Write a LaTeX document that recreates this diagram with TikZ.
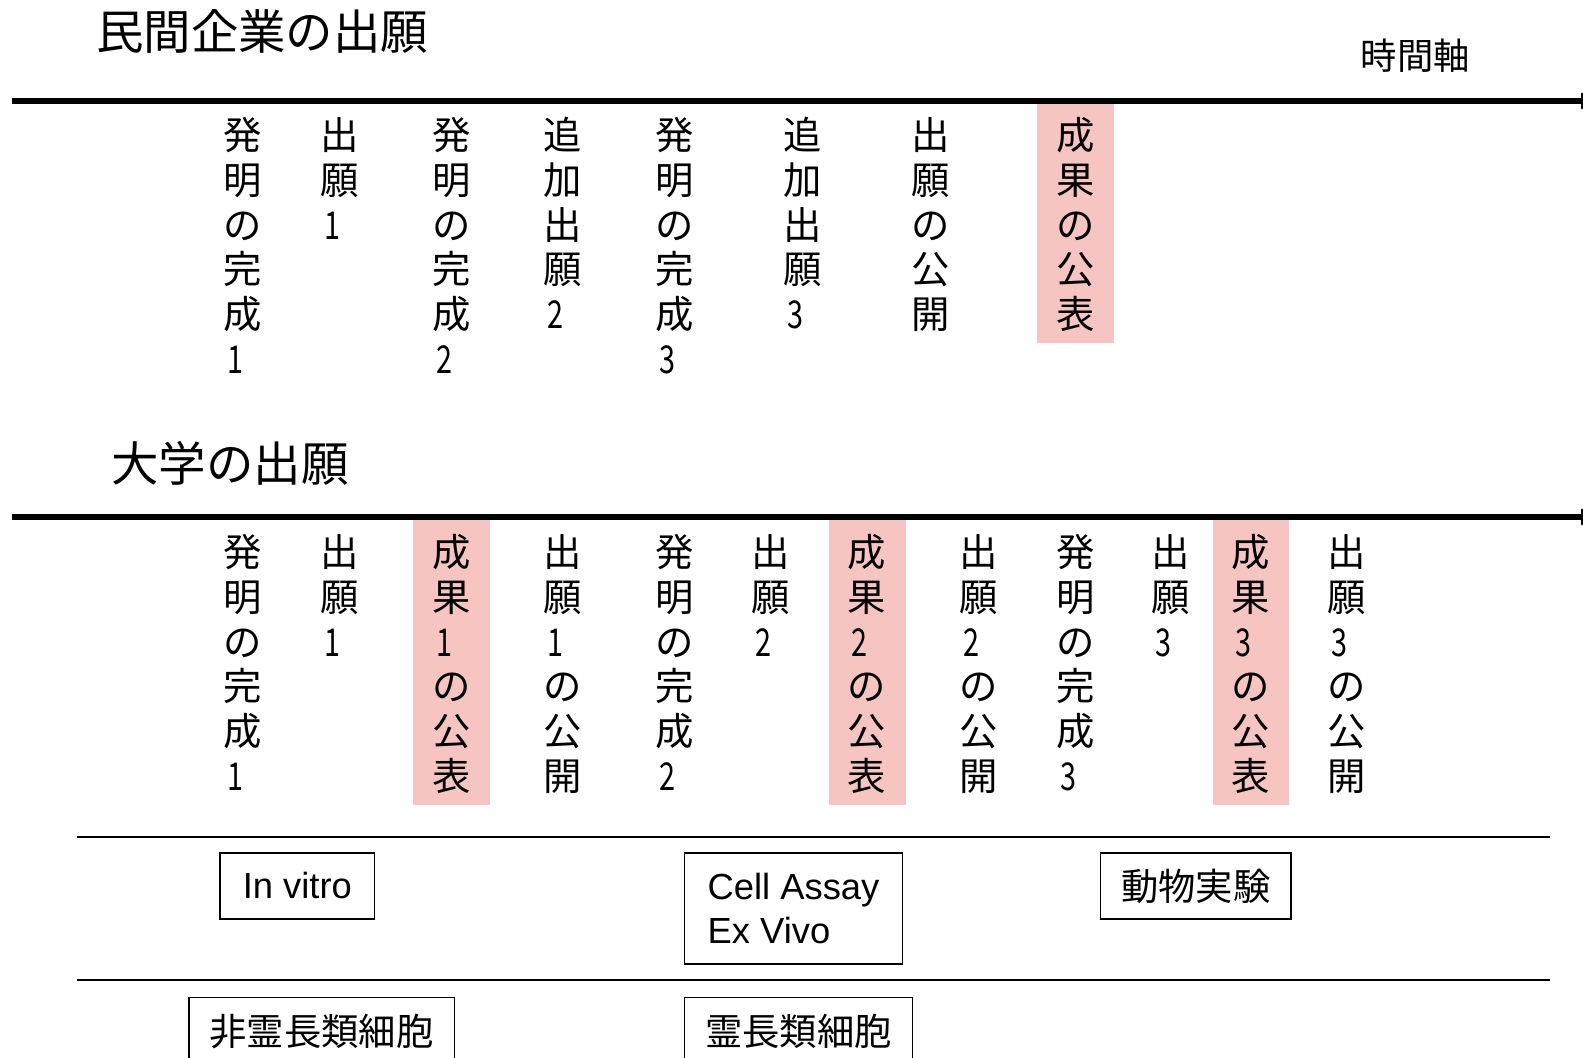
\documentclass[tikz,border=0pt]{standalone}
\usepackage{fontspec}
\setmainfont{Liberation Sans}
\newfontfamily\jp{Noto Sans CJK JP}
\newfontfamily\jpdig[FakeStretch=0.75]{Noto Sans CJK JP}
\newcommand{\dg}[1]{\hspace*{4pt}{\jpdig #1}}
\definecolor{pinkfill}{RGB}{247,197,193}
\tikzset{
  vch/.style={font=\jp\fontsize{38}{44}\selectfont, inner sep=0pt, text width=38pt, align=left, text height=33.4pt, text depth=4.6pt},
  pinkbox/.style={fill=pinkfill, draw=none, inner sep=0pt},
  axisline/.style={line width=5.5pt},
  endtick/.style={line width=2pt},
  thinline/.style={line width=1.8pt},
  labelbox/.style={draw=black, line width=1.6pt, inner sep=0pt},
  jptitle/.style={font=\jp\fontsize{47}{50}\selectfont, inner sep=0pt, anchor=west, text height=41.4pt, text depth=5.6pt},
}
\newcommand{\vcol}[4]{%
  \foreach \ch [count=\i] in {#4} {\node[vch] (#1-\i) at (#2, {#3+(\i-1)*44.25}) {\ch};}}
\begin{document}
\begin{tikzpicture}[x=1pt,y=-1pt]
\useasboundingbox (0,0) rectangle (1568,1047);
% titles
\node[jptitle] (t1) at (95,31) {民間企業の出願};
\node[jptitle] (t2) at (110,459) {大学の出願};
\node[font=\jp\fontsize{36}{40}\selectfont, inner sep=0pt, text height=31.7pt, text depth=4.3pt] (axis) at (1402,55) {時間軸};
% axis lines
\coordinate (a1s) at (12,100); \coordinate (a1e) at (1567,100);
\coordinate (a2s) at (12,512); \coordinate (a2e) at (1567,512);
\draw[axisline] (a1s) -- (a1e);
\draw[axisline] (a2s) -- (a2e);
\draw[endtick] ([yshift=-8pt]a1e) -- ([yshift=8pt]a1e);
\draw[endtick] ([yshift=-8pt]a2e) -- ([yshift=8pt]a2e);
% pink highlights
\node[pinkbox, minimum width=76pt, minimum height=237pt] (p0) at (1065,221.5) {};
\node[pinkbox, minimum width=76pt, minimum height=282pt] (p1) at (447,656) {};
\node[pinkbox, minimum width=76pt, minimum height=282pt] (p2) at (859,656) {};
\node[pinkbox, minimum width=76pt, minimum height=282pt] (p3) at (1239,656) {};
% top columns
\vcol{u1}{240}{134}{発,明,の,完,成,\dg1}
\vcol{u2}{336}{134}{出,願,\dg1}
\vcol{u3}{447}{134}{発,明,の,完,成,\dg2}
\vcol{u4}{557}{134}{追,加,出,願,\dg2}
\vcol{u5}{668}{134}{発,明,の,完,成,\dg3}
\vcol{u6}{795}{134}{追,加,出,願,\dg3}
\vcol{u7}{922}{134}{出,願,の,公,開}
\vcol{u8}{1065}{134}{成,果,の,公,表}
% bottom columns
\vcol{b1}{240}{547}{発,明,の,完,成,\dg1}
\vcol{b2}{336}{547}{出,願,\dg1}
\vcol{b3}{447}{547}{成,果,\dg1,の,公,表}
\vcol{b4}{557}{547}{出,願,\dg1,の,公,開}
\vcol{b5}{668}{547}{発,明,の,完,成,\dg2}
\vcol{b6}{763}{547}{出,願,\dg2}
\vcol{b7}{858}{547}{成,果,\dg2,の,公,表}
\vcol{b8}{969}{547}{出,願,\dg2,の,公,開}
\vcol{b9}{1065}{547}{発,明,の,完,成,\dg3}
\vcol{b10}{1160}{547}{出,願,\dg3}
\vcol{b11}{1239}{547}{成,果,\dg3,の,公,表}
\vcol{b12}{1334}{547}{出,願,\dg3,の,公,開}
% thin separators
\coordinate (s1s) at (76,829); \coordinate (s1e) at (1535,829);
\coordinate (s2s) at (76,971); \coordinate (s2e) at (1535,971);
\draw[thinline] (s1s) -- (s1e);
\draw[thinline] (s2s) -- (s2e);
% boxes
\node[labelbox, font=\fontsize{36}{44}\selectfont, minimum width=153pt, minimum height=65pt] (invitro) at (294.5,877.5) {In vitro};
\node[labelbox, font=\fontsize{36}{44}\selectfont, align=left, minimum width=216pt, minimum height=110pt] (cell) at (786,900) {Cell Assay\\Ex Vivo};
\node[labelbox, font=\jp\fontsize{37}{44}\selectfont, minimum width=189pt, minimum height=65pt] (animal) at (1184.5,877.5) {動物実験};
\node[labelbox, font=\jp\fontsize{37}{44}\selectfont, minimum width=263pt, minimum height=68pt] (nonprim) at (318.5,1022) {非霊長類細胞};
\node[labelbox, font=\jp\fontsize{37}{44}\selectfont, minimum width=226pt, minimum height=68pt] (prim) at (791,1022) {霊長類細胞};
\end{tikzpicture}
\end{document}
